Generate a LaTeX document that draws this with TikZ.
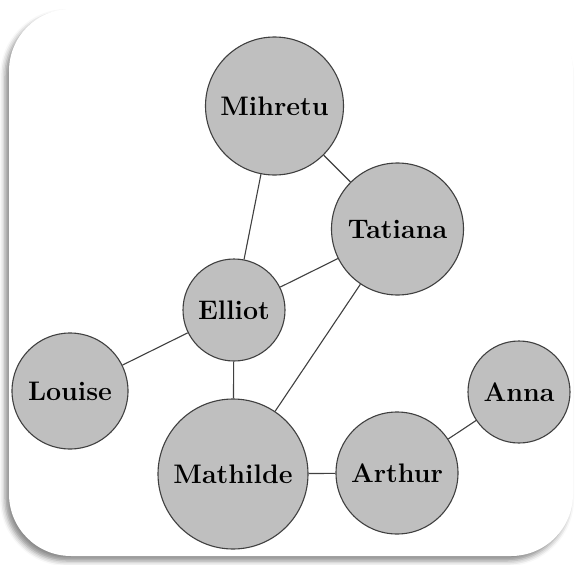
\documentclass[tikz,border=0pt]{standalone}
\usetikzlibrary{shadows.blur}
\begin{document}
\begin{tikzpicture}[x=1pt,y=-1pt,
  person/.style={circle,draw=black!75,line width=1.1pt,fill=black!25,inner sep=0pt,
    font=\fontsize{26.8}{30}\selectfont\bfseries},
  link/.style={draw=black!75,line width=1.1pt}]
\useasboundingbox (0,0) rectangle (576,565);
\fill[white,rounded corners=62pt,blur shadow={shadow xshift=-4pt,shadow yshift=-5pt,shadow blur radius=5pt,shadow opacity=45}]
  (9,9) rectangle (573,556);
\node[person,minimum size=138pt] (mih) at (274.5,106) {Mihretu};
\node[person,minimum size=132pt] (tat) at (397.5,229) {Tatiana};
\node[person,minimum size=102pt] (ell) at (234,310) {Elliot};
\node[person,minimum size=116pt] (lou) at (70,391) {Louise};
\node[person,minimum size=150pt] (mat) at (233,474) {Mathilde};
\node[person,minimum size=122pt] (art) at (397,473) {Arthur};
\node[person,minimum size=102pt] (ann) at (519,392) {Anna};
\draw[link] (mih) -- (tat);
\draw[link] (mih) -- (ell);
\draw[link] (tat) -- (ell);
\draw[link] (tat) -- (mat);
\draw[link] (ell) -- (lou);
\draw[link] (ell) -- (mat);
\draw[link] (mat) -- (art);
\draw[link] (art) -- (ann);
\end{tikzpicture}
\end{document}
